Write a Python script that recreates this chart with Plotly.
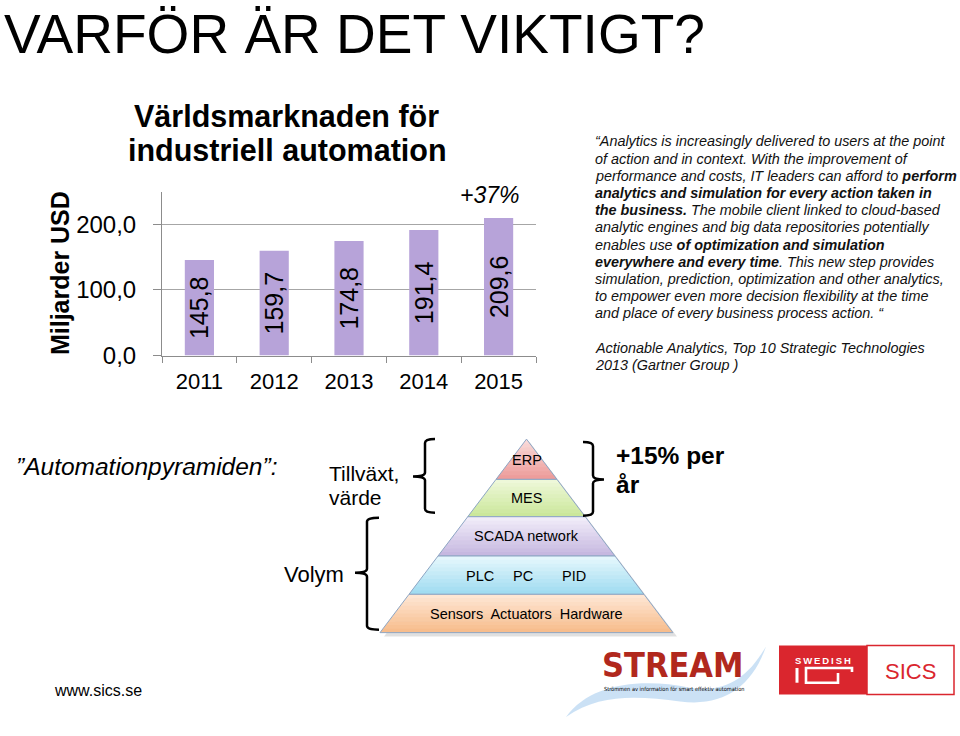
import plotly.graph_objects as go

W, H = 960, 736
FONT = "Liberation Sans, Arial, sans-serif"
NARROW = "Liberation Sans Narrow, Arial Narrow, DejaVu Sans Condensed, sans-serif"

# ---------------- data ----------------
years = ["2011", "2012", "2013", "2014", "2015"]
market_busd = [145.8, 159.7, 174.8, 191.4, 209.6]
y_tick_values = [0, 100, 200]
growth_label = "+37%"
chart_title = ["Världsmarknaden för", "industriell automation"]
y_title = "Miljarder USD"

pyramid_levels = ["ERP", "MES", "SCADA network", "PLC|PC|PID", "Sensors  Actuators  Hardware"]

quote_lines = [
    "“Analytics is increasingly delivered to users at the point",
    "of action and in context. With the improvement of",
    "performance and costs, IT leaders can afford to <b>perform</b>",
    "<b>analytics and simulation for every action taken in</b>",
    "<b>the business.</b> The mobile client linked to cloud-based",
    "analytic engines and big data repositories potentially",
    "enables use <b>of optimization and simulation</b>",
    "<b>everywhere and every time</b>. This new step provides",
    "simulation, prediction, optimization and other analytics,",
    "to empower even more decision flexibility at the time",
    "and place of every business process action. “",
    "",
    "Actionable Analytics, Top 10 Strategic Technologies",
    "2013 (Gartner Group )",
]


def px(x):
    return x / W


def py(y):
    return 1 - y / H


def path(cmds):
    out = []
    for c in cmds:
        if isinstance(c, str):
            out.append(c)
        else:
            out.append(f"{px(c[0]):.5f},{py(c[1]):.5f}")
    return " ".join(out)


annotations = []
shapes = []


def ann(text, x, y, size, xanchor="center", yanchor="middle", color="black",
        family=FONT, angle=0, align="left"):
    annotations.append(dict(
        text=text, x=px(x), y=py(y), xref="paper", yref="paper",
        xanchor=xanchor, yanchor=yanchor, showarrow=False, textangle=angle,
        align=align, font=dict(size=size, color=color, family=family)))


# ---------------- bar chart ----------------
fig = go.Figure()
fig.add_trace(go.Bar(
    x=years, y=market_busd, width=0.39,
    marker=dict(color="#b7a3d9", line=dict(width=0)),
    texttemplate="%{y:.1f}", textposition="inside", insidetextanchor="middle",
    textangle=-90, textfont=dict(size=25, color="black", family=FONT),
    hoverinfo="skip", showlegend=False))

# headings
ann("VARFÖR ÄR DET VIKTIGT?", 2, 35, 55, xanchor="left")
ann("<b>" + chart_title[0] + "</b>", 286, 118, 30.5)
ann("<b>" + chart_title[1] + "</b>", 287, 153, 30.5)
ann("<b>" + y_title + "</b>", 60, 278, 25, angle=-90)
ann("<i>" + growth_label + "</i>", 490, 198, 23)

# quote (one annotation per line, matching the slide's line pitch)
for i, line in enumerate(quote_lines):
    if line:
        ann("<i>" + line + "</i>", 593, 144 + 17.5 * i, 14.4, xanchor="left", color="#111")

# ---------------- pyramid ----------------
apex_x, apex_y, base_y = 526.5, 447.0, 644.0
half_base = 146.5
bounds = [447.0, 488.0, 526.0, 566.0, 605.0, 644.0]
layer_cols = [("#fadcdb", "#ec9a98"), ("#f0f9dc", "#c9e698"), ("#f3effa", "#c4b5df"),
              ("#e8f8fd", "#9ddbf0"), ("#fee8d7", "#f7bb89")]


def hw(y):
    return half_base * (y - apex_y) / (base_y - apex_y)


def mix(c1, c2, t):
    a = [int(c1[i:i + 2], 16) for i in (1, 3, 5)]
    b = [int(c2[i:i + 2], 16) for i in (1, 3, 5)]
    return "#" + "".join(f"{round(a[k] + (b[k] - a[k]) * t):02x}" for k in range(3))


# shadow
shapes.append(dict(type="path", xref="paper", yref="paper", layer="below",
                   path=path(["M", (apex_x + 3, apex_y + 3), "L", (apex_x + half_base + 4, base_y + 4),
                              "L", (apex_x - half_base + 4, base_y + 4), "Z"]),
                   fillcolor="rgba(0,0,0,0.12)", line=dict(width=0)))
N = 10
for i in range(5):
    y0, y1 = bounds[i], bounds[i + 1]
    for k in range(N):
        a = y0 + (y1 - y0) * k / N
        b = y0 + (y1 - y0) * (k + 1) / N + (0.6 if k < N - 1 else 0)
        b = min(b, y1)
        col = mix(layer_cols[i][0], layer_cols[i][1], (k + 0.5) / N)
        pts = [(apex_x - hw(a), a), (apex_x + hw(a), a), (apex_x + hw(b), b), (apex_x - hw(b), b)]
        shapes.append(dict(type="path", xref="paper", yref="paper", layer="below",
                           path=path(["M", pts[0], "L", pts[1], "L", pts[2], "L", pts[3], "Z"]),
                           fillcolor=col, line=dict(width=0)))
    pts = [(apex_x - hw(y0), y0), (apex_x + hw(y0), y0), (apex_x + hw(y1), y1), (apex_x - hw(y1), y1)]
    shapes.append(dict(type="path", xref="paper", yref="paper", layer="below",
                       path=path(["M", pts[0], "L", pts[1], "L", pts[2], "L", pts[3], "Z"]),
                       fillcolor="rgba(0,0,0,0)", line=dict(color="#8ea6c4", width=1)))

label_y = [468, 507, 546, 586, 625]
for i, lab in enumerate(pyramid_levels):
    if "|" in lab:
        for part, xx in zip(lab.split("|"), [480, 523, 574]):
            ann(part, xx, label_y[i], 14.5)
    else:
        ann(lab.replace("  ", "\u00a0 "), apex_x, label_y[i], 14.5)


# braces
def brace_left(xv, xr, xt, y0, y1, ym, r=4):
    return path(["M", (xr, y0), "Q", (xv, y0), (xv, y0 + r), "L", (xv, ym - r),
                 "Q", (xv, ym), (xt, ym), "Q", (xv, ym), (xv, ym + r), "L", (xv, y1 - r),
                 "Q", (xv, y1), (xr, y1)])


for p in [brace_left(425, 435, 413, 447, 522, 485),
          brace_left(367, 379, 355, 527, 641, 583),
          brace_left(593, 583, 604, 450, 525, 488)]:
    shapes.append(dict(type="path", xref="paper", yref="paper", path=p,
                       line=dict(color="black", width=2.5)))

ann("<i>”Automationpyramiden”:</i>", 14, 475, 24.5, xanchor="left")
ann("Tillväxt,", 327, 482, 21, xanchor="left")
ann("värde", 327, 506, 21, xanchor="left")
ann("Volym", 282, 585, 22, xanchor="left")
ann("<b>+15% per</b>", 614, 464, 24.5, xanchor="left")
ann("<b>år</b>", 614, 493, 24.5, xanchor="left")

# ---------------- footer / logos ----------------
ann("www.sics.se", 52, 703, 16, xanchor="left")

# STREAM swoosh
shapes.append(dict(type="path", xref="paper", yref="paper", layer="below",
                   path=path(["M", (566, 730), "C", (590, 696), (640, 690), (690, 700),
                              "C", (725, 706), (748, 690), (766, 658),
                              "C", (752, 700), (722, 720), (680, 714),
                              "C", (640, 709), (600, 705), (566, 730), "Z"]),
                   fillcolor="rgba(160,200,236,0.55)", line=dict(width=0)))
ann("<b>STREAM</b>", 672, 677, 34, color="#b1281d", family=NARROW)
ann("Strömmen av information för smart effektiv automation", 674, 701, 5.6, family=NARROW)

# SICS logo
shapes.append(dict(type="rect", xref="paper", yref="paper", x0=px(779), x1=px(867),
                   y0=py(707), y1=py(657), fillcolor="#da262e", line=dict(width=0)))
shapes.append(dict(type="rect", xref="paper", yref="paper", x0=px(867), x1=px(954),
                   y0=py(707), y1=py(657), fillcolor="white", line=dict(color="#da262e", width=1.5)))
ann("<b>S\u2009W\u2009E\u2009D\u2009I\u2009S\u2009H</b>", 823, 672, 9.5, color="white")
shapes.append(dict(type="path", xref="paper", yref="paper",
                   path=path(["M", (797, 680), "L", (797, 695)]), line=dict(color="white", width=3)))
shapes.append(dict(type="path", xref="paper", yref="paper",
                   path=path(["M", (852, 684), "L", (852, 680), "L", (806, 680), "L", (806, 695),
                              "L", (838, 695), "L", (838, 685)]),
                   line=dict(color="white", width=2.6)))
ann("SICS", 910, 684, 22, color="#da262e")

fig.update_layout(
    width=W, height=H, margin=dict(l=0, r=0, t=0, b=0),
    paper_bgcolor="white", plot_bgcolor="rgba(0,0,0,0)",
    separators=", ", font=dict(family=FONT, color="black"),
    uniformtext=dict(minsize=25, mode="show"),
    showlegend=False, bargap=0.61,
    xaxis=dict(domain=[px(162), px(536)], type="category",
               showline=True, linecolor="#8c8c8c", linewidth=1,
               ticks="outside", tickson="boundaries", ticklen=6, tickcolor="#8c8c8c",
               tickfont=dict(size=22, family=FONT), ticklabelstandoff=6,
               showgrid=False, fixedrange=True),
    yaxis=dict(domain=[py(362), py(195)], range=[0, 250], tickvals=y_tick_values,
               tickformat=".1f", showline=True, linecolor="#8c8c8c", linewidth=1,
               ticks="outside", ticklen=8, tickcolor="#8c8c8c",
               tickfont=dict(size=24, family=FONT), ticklabelstandoff=12,
               showgrid=True, gridcolor="#a6a6a6", gridwidth=1, zeroline=False,
               fixedrange=True),
    annotations=annotations, shapes=shapes,
)

fig.write_html(
    "out.html", config={"displayModeBar": False},
    post_script=("var d=document.documentElement,b=document.body;"
                 "d.style.margin='0';d.style.padding='0';d.style.overflow='hidden';"
                 "d.style.height='736px';b.style.margin='0';b.style.padding='0';"
                 "b.style.overflow='hidden';b.style.height='736px';"))
